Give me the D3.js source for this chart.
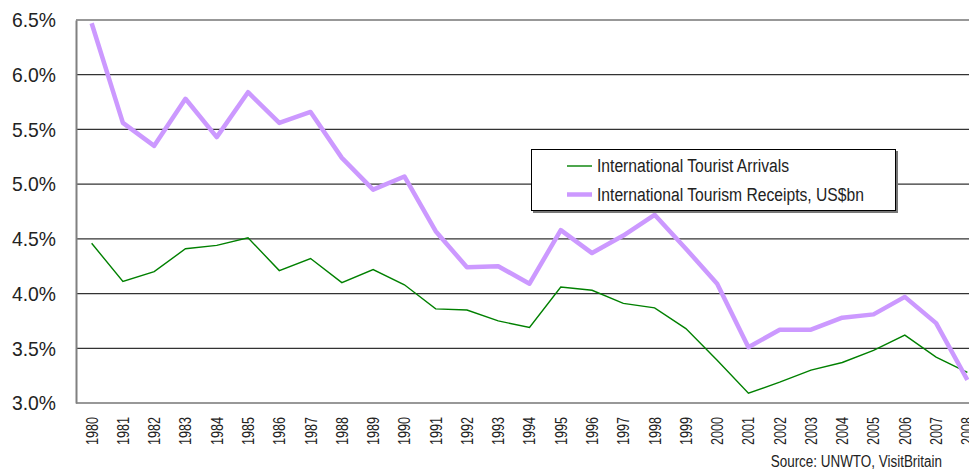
<!DOCTYPE html>
<html>
<head>
<meta charset="utf-8">
<script src="https://cdn.jsdelivr.net/npm/d3@7"></script>
<style>
    body { margin: 0; background: #fff; }
    svg { display: block; font-family: 'Liberation Sans', Arial, sans-serif; }
</style>
</head>
<body>
<svg width="969" height="475"></svg>
<script>
    var years = d3.range(1980, 2009).map(String);
    var arrivals = [4.46, 4.11, 4.20, 4.41, 4.44, 4.51, 4.21, 4.32, 4.10, 4.22,
        4.08, 3.86, 3.85, 3.75, 3.69, 4.06, 4.03, 3.91, 3.87, 3.68,
        3.39, 3.09, 3.19, 3.30, 3.37, 3.48, 3.62, 3.42, 3.28];
    var receipts = [6.47, 5.56, 5.35, 5.78, 5.43, 5.84, 5.56, 5.66, 5.24, 4.95,
        5.07, 4.57, 4.24, 4.25, 4.09, 4.58, 4.37, 4.53, 4.72, 4.41,
        4.09, 3.51, 3.67, 3.67, 3.78, 3.81, 3.97, 3.73, 3.21];
    var yTicks = [3.0, 3.5, 4.0, 4.5, 5.0, 5.5, 6.0, 6.5];
    var seriesNames = ['International Tourist Arrivals', 'International Tourism Receipts, US$bn'];

    // squeeze text horizontally, the original uses a condensed face
    function narrow(sel, k) {
        sel.each(function () {
            var w = this.getComputedTextLength();
            d3.select(this).attr('textLength', w * k).attr('lengthAdjust', 'spacingAndGlyphs');
        });
    }

    var svg = d3.select('svg'),
        margin = { top: 20, left: 76 },
        plotW = 907,
        plotH = 383;

    var x = d3.scaleBand().domain(years).range([margin.left, margin.left + plotW]);
    var y = d3.scaleLinear().domain([3, 6.5]).range([margin.top + plotH, margin.top]);

    // gridlines
    svg.append('g').selectAll('line')
        .data(yTicks)
        .enter().append('line')
        .attr('x1', margin.left)
        .attr('x2', 969)
        .attr('y1', function (d) { return y(d) })
        .attr('y2', function (d) { return y(d) })
        .attr('stroke', '#333')
        .attr('stroke-width', 1.2);

    // left axis
    var yAxis = svg.append('g')
        .attr('transform', 'translate(' + margin.left + ',0)')
        .call(d3.axisLeft(y).tickValues(yTicks).tickSize(0).tickPadding(20)
            .tickFormat(function (d) { return d.toFixed(1) + '%' }));
    yAxis.select('.domain').attr('stroke', '#808080').attr('stroke-width', 2);
    yAxis.selectAll('text').attr('font-size', 21).attr('fill', '#222')
        .attr('font-family', "'Liberation Sans', Arial, sans-serif");
    narrow(yAxis.selectAll('text'), 0.92);

    // bottom axis
    var xAxis = svg.append('g')
        .attr('transform', 'translate(0,' + (margin.top + plotH) + ')')
        .call(d3.axisBottom(x).tickSize(0));
    xAxis.select('.domain').remove();
    xAxis.selectAll('text')
        .attr('font-size', 17)
        .attr('fill', '#222')
        .attr('font-family', "'Liberation Sans', Arial, sans-serif")
        .attr('transform', 'rotate(-90)')
        .attr('text-anchor', 'end')
        .attr('dy', '0.35em')
        .attr('x', -14)
        .attr('y', 0)
        .attr('textLength', 28)
        .attr('lengthAdjust', 'spacingAndGlyphs');

    var line = d3.line()
        .x(function (d, i) { return x(years[i]) + x.bandwidth() / 2 })
        .y(function (d) { return y(d) });

    svg.append('path')
        .datum(arrivals)
        .attr('fill', 'none')
        .attr('stroke', '#008000')
        .attr('stroke-width', 1.4)
        .attr('d', line);

    svg.append('path')
        .datum(receipts)
        .attr('fill', 'none')
        .attr('stroke', '#cc99ff')
        .attr('stroke-width', 4.5)
        .attr('stroke-linejoin', 'round')
        .attr('d', line);

    // legend
    var lg = svg.append('g').attr('transform', 'translate(531,149)');
    lg.append('rect').attr('x', 2).attr('y', 2).attr('width', 365).attr('height', 62).attr('fill', '#777');
    lg.append('rect').attr('x', 0.5).attr('y', 0.5).attr('width', 364).attr('height', 61)
        .attr('fill', '#fff').attr('stroke', '#000').attr('stroke-width', 1);
    var items = lg.selectAll('.item')
        .data(seriesNames)
        .enter().append('g')
        .attr('transform', function (d, i) { return 'translate(0,' + (17 + i * 28.5) + ')' });
    items.append('line')
        .attr('x1', 36).attr('x2', 61)
        .attr('stroke', function (d, i) { return i ? '#cc99ff' : '#008000' })
        .attr('stroke-width', function (d, i) { return i ? 4.5 : 1.4 });
    var lgText = items.append('text')
        .attr('x', 66)
        .attr('dy', '0.35em')
        .attr('font-size', 18)
        .attr('fill', '#222')
        .text(function (d) { return d });
    narrow(lgText, 0.87);

    var src = svg.append('text')
        .attr('x', 942)
        .attr('y', 467)
        .attr('text-anchor', 'end')
        .attr('font-size', 16)
        .attr('fill', '#222')
        .text('Source: UNWTO, VisitBritain');
    narrow(src, 0.84);
</script>
</body>
</html>
